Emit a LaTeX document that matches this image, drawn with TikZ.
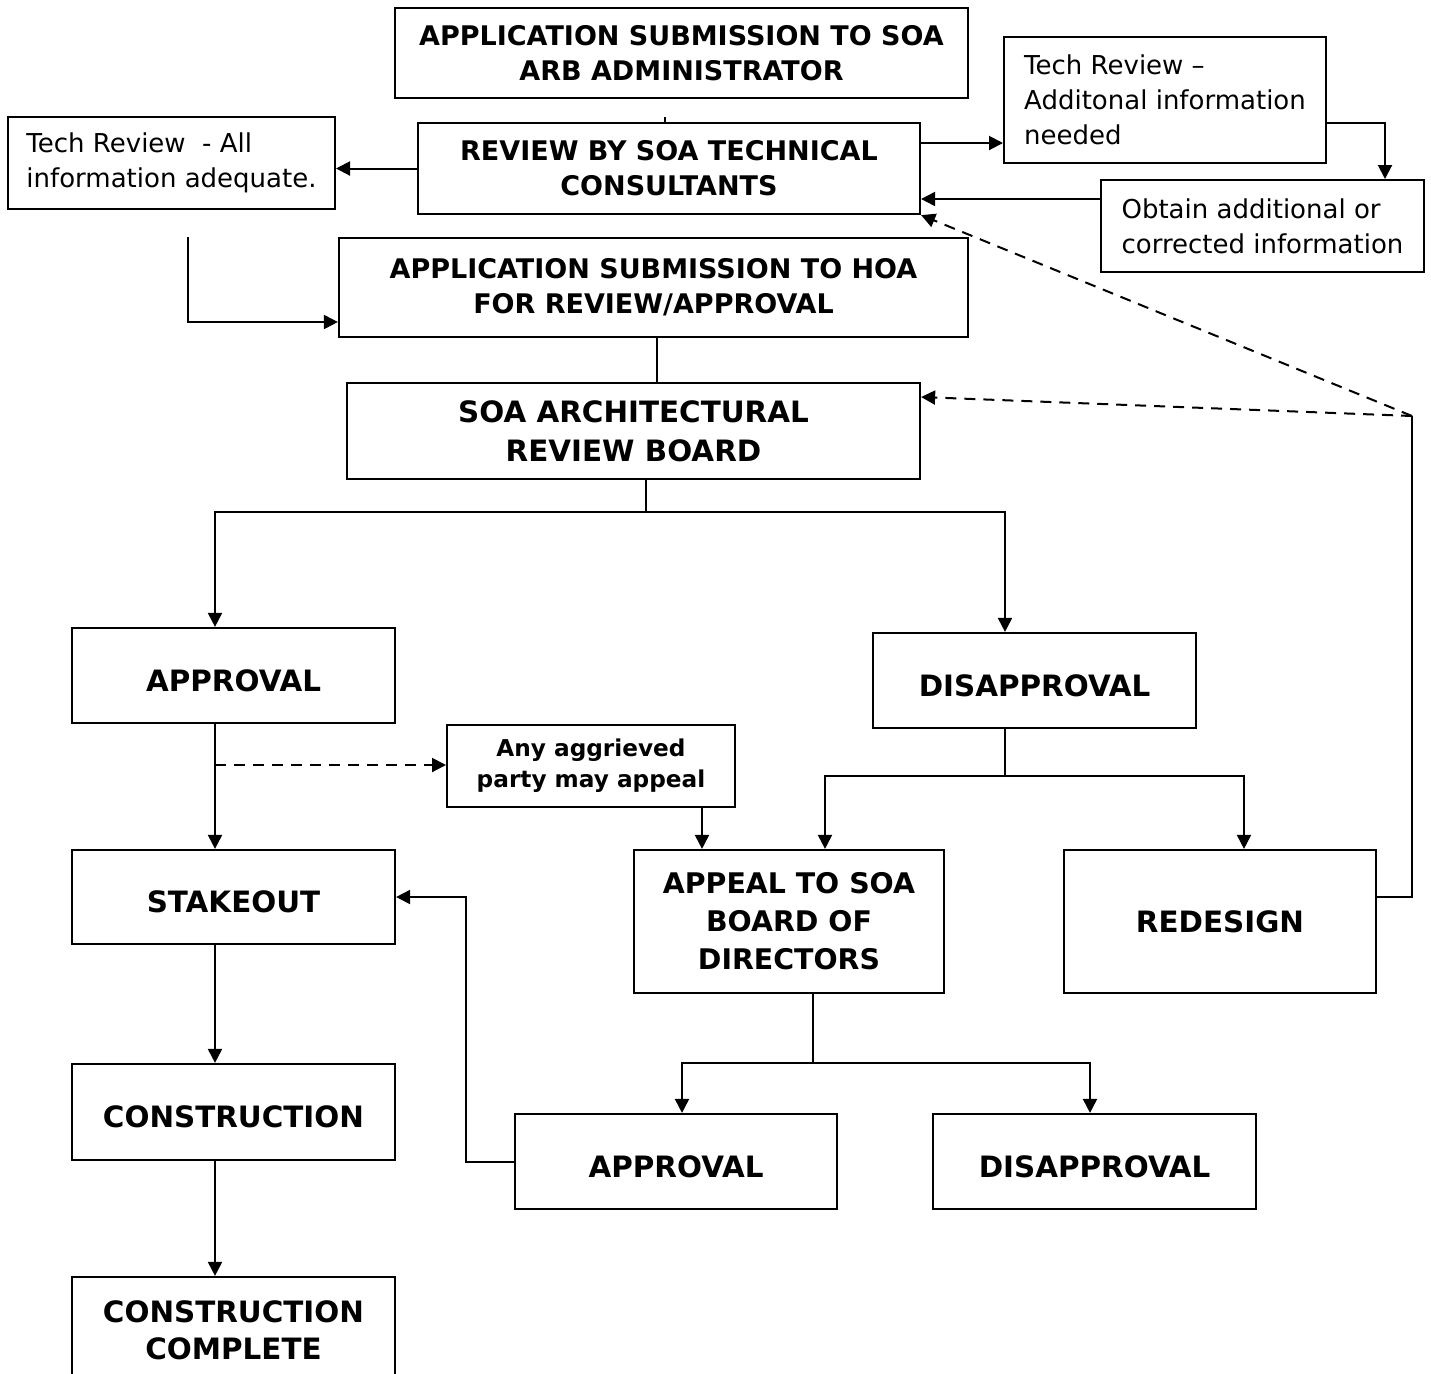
\documentclass[tikz,border=0pt]{standalone}
\usepackage{fontspec}
\setmainfont{DejaVu Sans}
\usetikzlibrary{arrows.meta}
\begin{document}
\begin{tikzpicture}[x=0.5pt,y=-0.5pt,
  bbox/.style={draw, line width=1.1pt, inner sep=0pt, align=center,
    font=\fontsize{13.5pt}{17.5pt}\selectfont\bfseries},
  big/.style={font=\fontsize{14.7pt}{19.5pt}\selectfont\bfseries},
  lowtext/.style={big, text height=15.7pt, text depth=0pt},
  rbox/.style={draw, line width=1pt, inner sep=0pt, align=left,
    font=\fontsize{13pt}{17.5pt}\selectfont},
  conn/.style={line width=1pt},
  thinconn/.style={line width=0.7pt},
  arr/.style={line width=1pt, -{Triangle[length=7pt,width=7pt]}},
  dsh/.style={dash pattern=on 5.5pt off 4pt}
]
\useasboundingbox (0,0) rectangle (1431,1373);
\clip (0,0) rectangle (1431,1373);

% boxes
\node[bbox, minimum width=286.5pt, minimum height=45pt] (A1) at (681.5,53) {APPLICATION SUBMISSION TO SOA\\ARB ADMINISTRATOR};
\node[bbox, minimum width=251pt, minimum height=45.5pt] (R) at (669,168.5) {REVIEW BY SOA TECHNICAL\\CONSULTANTS};
\node[rbox, minimum width=163.5pt, minimum height=46pt] (TA) at (171.5,163) {Tech Review~ - All\\information adequate.};
\node[rbox, minimum width=161pt, minimum height=63pt] (TAd) at (1165,100) {Tech Review –\\Additonal information\\needed};
\node[rbox, minimum width=161.5pt, minimum height=46pt] (Ob) at (1262.5,226) {Obtain additional or\\corrected information};
\node[bbox, minimum width=314.5pt, minimum height=49.5pt] (HOA) at (653.5,287.5) {APPLICATION SUBMISSION TO HOA\\FOR REVIEW/APPROVAL};
\node[bbox, big, minimum width=286.5pt, minimum height=48pt] (ARB) at (633.5,431) {SOA ARCHITECTURAL\\REVIEW BOARD};
\node[bbox, lowtext, minimum width=161.5pt, minimum height=47.5pt] (AP) at (233.5,675.5) {APPROVAL};
\node[bbox, lowtext, minimum width=161.5pt, minimum height=47.5pt] (DIS) at (1034.5,680.5) {DISAPPROVAL};
\node[bbox, line width=1pt, minimum width=144pt, minimum height=41pt, font=\fontsize{11.6pt}{15.5pt}\selectfont\bfseries] (AGG) at (591,766) {Any aggrieved\\party may appeal};
\node[bbox, lowtext, minimum width=161.5pt, minimum height=47pt] (ST) at (233.5,897) {STAKEOUT};
\node[bbox, minimum width=155pt, minimum height=71.5pt, font=\fontsize{14.2pt}{19pt}\selectfont\bfseries] (APL) at (789,921.5) {APPEAL TO SOA\\BOARD OF\\DIRECTORS};
\node[bbox, big, minimum width=156pt, minimum height=71.5pt] (RED) at (1220,921.5) {REDESIGN};
\node[bbox, lowtext, minimum width=161.5pt, minimum height=48pt] (CON) at (233.5,1112) {CONSTRUCTION};
\node[bbox, lowtext, minimum width=161pt, minimum height=47.5pt] (AP2) at (676,1161.5) {APPROVAL};
\node[bbox, lowtext, minimum width=161.5pt, minimum height=47.5pt] (DIS2) at (1094.5,1161.5) {DISAPPROVAL};
\node[bbox, minimum width=161.5pt, minimum height=53pt, font=\fontsize{14.7pt}{18.5pt}\selectfont\bfseries] (CC) at (233.5,1330) {CONSTRUCTION\\COMPLETE};

% helper coordinates
\coordinate (k1) at (665,0);
\coordinate (h143) at (0,143);
\coordinate (p) at (1385,123);
\coordinate (q) at (0,199);
\coordinate (s) at (188,237);
\coordinate (t) at (0,322);
\coordinate (u) at (657,0);
\coordinate (j1) at (646,512);
\coordinate (v1) at (215,0);
\coordinate (v2) at (1005,0);
\coordinate (dy) at (0,765);
\coordinate (w) at (702,0);
\coordinate (j2) at (1005,776);
\coordinate (x825) at (825,0);
\coordinate (x1244) at (1244,0);
\coordinate (y897) at (0,897);
\coordinate (cr) at (1412,416);
\coordinate (y397) at (0,397);
\coordinate (j3) at (813,1063);
\coordinate (x682) at (682,0);
\coordinate (x1090) at (1090,0);
\coordinate (m) at (466,0);

% connectors
\draw[thinconn] ([yshift=-9]A1.south -| k1) -- (R.north -| k1);
\draw[arr] (R.west) -- (TA.east |- R.west);
\draw[arr] (R.east |- h143) -- (TAd.west |- h143);
\draw[arr] (TAd.east |- p) -| (Ob.north -| p);
\draw[arr] (Ob.west |- q) -- (R.east |- q);
\draw[arr] (s) |- (HOA.west |- t);
\draw[thinconn] (HOA.south -| u) -- (ARB.north -| u);
\draw[thinconn] (ARB.south -| j1) -- (j1);
\draw[arr] (j1) -| (AP.north -| v1);
\draw[arr] (j1) -| (DIS.north -| v2);
\draw[arr] (AP.south -| v1) -- (ST.north -| v1);
\draw[arr, dsh] (v1 |- dy) -- (AGG.west |- dy);
\draw[arr] (AGG.south -| w) -- (APL.north -| w);
\draw[thinconn] (DIS.south -| j2) -- (j2);
\draw[arr] (j2) -| (APL.north -| x825);
\draw[arr] (j2) -| (RED.north -| x1244);
\draw[conn] (RED.east |- y897) -| (cr);
\draw[arr, dsh] (cr) -- (ARB.east |- y397);
\draw[arr, dsh] (cr) -- (R.south east);
\draw[thinconn] (APL.south -| j3) -- (j3);
\draw[arr] (j3) -| (AP2.north -| x682);
\draw[arr] (j3) -| (DIS2.north -| x1090);
\draw[arr] (AP2.west) -- (AP2.west -| m) |- (ST.east);
\draw[arr] (ST.south -| v1) -- (CON.north -| v1);
\draw[arr] (CON.south -| v1) -- (CC.north -| v1);
\end{tikzpicture}
\end{document}
